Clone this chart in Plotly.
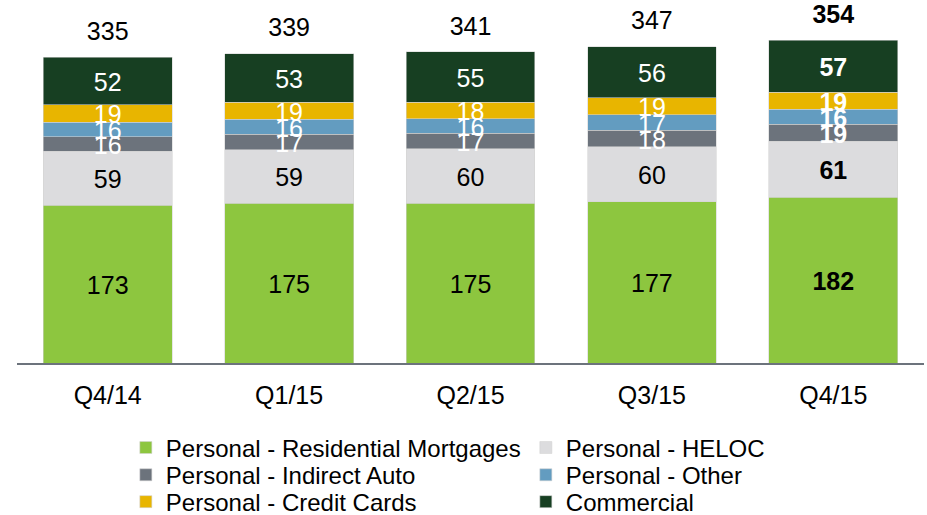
import plotly.graph_objects as go

# ── Data ───────────────────────────────────────────────────────────────────────
quarters = ["Q4/14", "Q1/15", "Q2/15", "Q3/15", "Q4/15"]

residential_mortgages = [173, 175, 175, 177, 182]
heloc = [59, 59, 60, 60, 61]
indirect_auto = [16, 17, 17, 18, 19]
personal_other = [16, 16, 16, 17, 16]
credit_cards = [19, 19, 18, 19, 19]
commercial = [52, 53, 55, 56, 57]

totals = [335, 339, 341, 347, 354]

# (name, values, bar colour, label colour, legend id)
series = [
    ("Personal - Residential Mortgages", residential_mortgages, "#8DC63F", "#000000", "legend"),
    ("Personal - HELOC", heloc, "#DCDCDE", "#000000", "legend"),
    ("Personal - Indirect Auto", indirect_auto, "#6C737C", "#FFFFFF", "legend2"),
    ("Personal - Other", personal_other, "#639CC0", "#FFFFFF", "legend2"),
    ("Personal - Credit Cards", credit_cards, "#E8B500", "#FFFFFF", "legend3"),
    ("Commercial", commercial, "#173F22", "#FFFFFF", "legend3"),
]

FONT = "Liberation Sans, Arial, sans-serif"
LABEL_SIZE = 25
TOTAL_OFFSET = 26   # data units between bar top and total label
LABEL_NUDGE = -4    # segment labels sit a touch below the segment middle


def fmt(values):
    """Plain labels, last quarter in bold."""
    return [f"<b>{v}</b>" if i == len(values) - 1 else str(v) for i, v in enumerate(values)]


fig = go.Figure()

base = [0] * len(quarters)
label_traces = []
for name, values, color, text_color, legend_id in series:
    fig.add_trace(go.Bar(
        x=quarters, y=values, name=name, legend=legend_id,
        marker=dict(color=color, line=dict(color="rgba(210,210,210,0.7)", width=0.8)),
        hoverinfo="skip",
    ))
    mids = [b + v / 2 + LABEL_NUDGE for b, v in zip(base, values)]
    label_traces.append(go.Scatter(
        x=quarters, y=mids, mode="text", text=fmt(values),
        textposition="middle center",
        textfont=dict(family=FONT, size=LABEL_SIZE, color=text_color),
        showlegend=False, hoverinfo="skip", cliponaxis=False,
    ))
    base = [b + v for b, v in zip(base, values)]

for tr in label_traces:
    fig.add_trace(tr)

fig.add_trace(go.Scatter(
    x=quarters, y=[t + TOTAL_OFFSET for t in totals], mode="text", text=fmt(totals),
    textposition="middle center",
    textfont=dict(family=FONT, size=LABEL_SIZE, color="#000000"),
    showlegend=False, hoverinfo="skip", cliponaxis=False,
))

_legend = dict(
    orientation="h", xanchor="left", yanchor="middle", x=0.120,
    entrywidth=355, traceorder="normal",
    font=dict(family=FONT, size=24, color="#000000"),
    bgcolor="rgba(0,0,0,0)", itemclick=False,
)

fig.update_layout(
    width=927, height=515,
    margin=dict(l=17, r=3, t=0, b=152, autoexpand=False),
    plot_bgcolor="#FFFFFF", paper_bgcolor="#FFFFFF",
    barmode="stack", bargap=0.29,
    font=dict(family=FONT, color="#000000"),
    xaxis=dict(
        showline=True, linecolor="#6C737C", linewidth=2,
        ticks="", showgrid=False, zeroline=False, ticklabelstandoff=9,
        tickfont=dict(family=FONT, size=25, color="#000000"),
    ),
    yaxis=dict(visible=False, range=[0, 398], showgrid=False, zeroline=False),
    legend=dict(_legend, y=-0.234),
    legend2=dict(_legend, y=-0.309),
    legend3=dict(_legend, y=-0.383),
)

# drop the default 8px page margin so the figure sits at the window's corner
fig.write_html(
    "out.html",
    config={"displayModeBar": False},
    post_script="document.body.style.margin='0';",
)
